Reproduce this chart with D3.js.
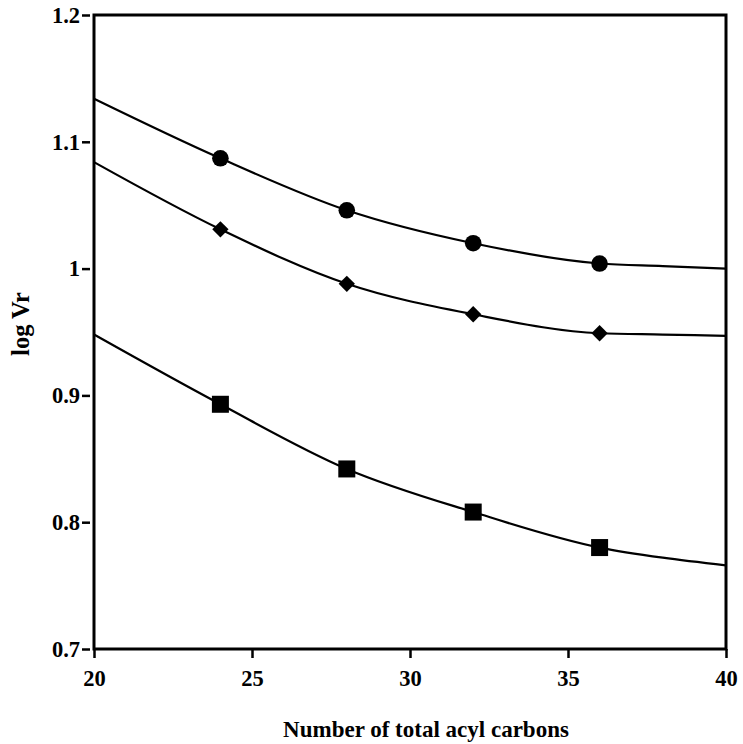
<!DOCTYPE html>
<html>
<head>
<meta charset="utf-8">
<script src="https://cdn.jsdelivr.net/npm/d3@7"></script>
<style>
  body { margin: 0; background: #fff; }
  text { font-family: "Liberation Serif", "Times New Roman", serif; font-weight: bold; }
</style>
</head>
<body>
<div id="chart"></div>
<script>
// measured points
var carbons = [24, 28, 32, 36];
var circleVals = [1.087, 1.046, 1.020, 1.004];
var diamondVals = [1.031, 0.988, 0.964, 0.949];
var squareVals = [0.893, 0.842, 0.808, 0.780];

// fitted curves
var fitX = [20, 24, 28, 32, 36, 38, 40];
var circleFit = [1.134, 1.087, 1.046, 1.020, 1.004, 1.002, 1.000];
var diamondFit = [1.084, 1.031, 0.988, 0.964, 0.949, 0.948, 0.947];
var squareFit = [0.948, 0.893, 0.842, 0.808, 0.780, 0.772, 0.766];

var xTicks = [20, 25, 30, 35, 40];
var yTicks = [0.7, 0.8, 0.9, 1.0, 1.1, 1.2];

var width = 743,
    height = 744;

var svg = d3.select("#chart").append("svg")
    .attr("width", width)
    .attr("height", height);

var x = d3.scaleLinear().domain([20, 40]).range([94, 726]);
var y = d3.scaleLinear().domain([0.7, 1.2]).range([649, 15]);

// frame
svg.append("rect")
    .attr("x", x(20)).attr("y", y(1.2))
    .attr("width", x(40) - x(20)).attr("height", y(0.7) - y(1.2))
    .attr("fill", "none").attr("stroke", "#000").attr("stroke-width", 3);

// y axis
var yAxis = svg.append("g")
    .attr("transform", "translate(" + (x(20) - 4) + ",0)")
    .call(d3.axisLeft(y).tickValues(yTicks).tickSize(8).tickPadding(2)
      .tickFormat(function(d) { return d === 1 ? "1" : d3.format(".1f")(d); }));
yAxis.select(".domain").remove();
yAxis.selectAll("line").attr("stroke-width", 2.5);
yAxis.selectAll("text").style("font-size", "22.5px").attr("fill", "#000");

// x axis
var xAxis = svg.append("g")
    .attr("transform", "translate(0," + y(0.7) + ")")
    .call(d3.axisBottom(x).tickValues(xTicks).tickSize(9).tickPadding(12));
xAxis.select(".domain").remove();
xAxis.selectAll("line").attr("stroke-width", 2.5);
xAxis.selectAll("text").style("font-size", "22.5px").attr("fill", "#000");

// titles
svg.append("text")
    .attr("x", 426).attr("y", 737)
    .attr("text-anchor", "middle")
    .style("font-size", "23px")
    .text("Number of total acyl carbons");

svg.append("text")
    .attr("transform", "translate(29," + 324 + ") rotate(-90)")
    .attr("text-anchor", "middle")
    .style("font-size", "24.5px")
    .text("log Vr");

// curves
var line = d3.line()
    .x(function(d) { return x(d[0]); })
    .y(function(d) { return y(d[1]); })
    .curve(d3.curveMonotoneX);

[circleFit, diamondFit, squareFit].forEach(function(fit) {
  svg.append("path")
      .datum(fitX.map(function(v, i) { return [v, fit[i]]; }))
      .attr("d", line)
      .attr("fill", "none")
      .attr("stroke", "#000")
      .attr("stroke-width", 2.2);
});

// markers
svg.selectAll("circle.pt").data(carbons)
  .enter().append("circle")
    .attr("class", "pt")
    .attr("cx", function(d) { return x(d); })
    .attr("cy", function(d, i) { return y(circleVals[i]); })
    .attr("r", 8.3)
    .attr("fill", "#000");

svg.selectAll("path.diamond").data(carbons)
  .enter().append("path")
    .attr("class", "diamond")
    .attr("d", d3.symbol().type(d3.symbolDiamond2).size(170))
    .attr("transform", function(d, i) {
      return "translate(" + x(d) + "," + y(diamondVals[i]) + ")";
    })
    .attr("fill", "#000");

svg.selectAll("rect.sq").data(carbons)
  .enter().append("rect")
    .attr("class", "sq")
    .attr("x", function(d) { return x(d) - 8.5; })
    .attr("y", function(d, i) { return y(squareVals[i]) - 8.5; })
    .attr("width", 17).attr("height", 17)
    .attr("fill", "#000");
</script>
</body>
</html>
